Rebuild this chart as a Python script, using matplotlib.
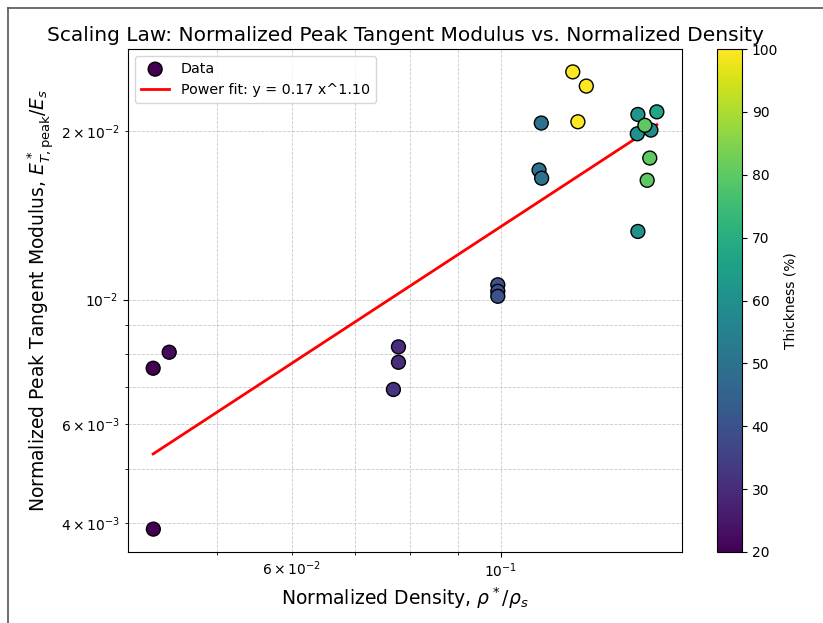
#!/usr/bin/env python3
"""Scaling law: normalized peak tangent modulus vs normalized density (log-log)."""

import numpy as np
import matplotlib
matplotlib.use("Agg")
import matplotlib.pyplot as plt
from matplotlib.lines import Line2D

# ── Data ─────────────────────────────────────────────────────────────
density = [0.04281, 0.04452, 0.04283,
           0.07786, 0.07786, 0.07691,
           0.09920, 0.09920, 0.09920,
           0.1103, 0.1097, 0.1104,
           0.1191, 0.1231, 0.1206,
           0.1396, 0.1462, 0.1394, 0.1441, 0.1420, 0.1437, 0.1428, 0.1396]
modulus = [0.007548, 0.008060, 0.003901,
           0.008240, 0.007735, 0.006918,
           0.01063, 0.01035, 0.01014,
           0.02064, 0.01702, 0.01646,
           0.02546, 0.02402, 0.02075,
           0.02138, 0.02161, 0.01975, 0.02005, 0.02045, 0.01788, 0.01632, 0.01323]
thickness = [20, 22, 20,
             30, 30, 32,
             40, 40, 40,
             50, 50, 50,
             100, 100, 100,
             62, 67, 60, 58, 80, 80, 80, 60]

FIT_A = 0.17
FIT_B = 1.10

# ── Figure ───────────────────────────────────────────────────────────
fig = plt.figure(figsize=(8.23, 6.23), dpi=100)
ax = fig.add_axes([0.1555, 0.114, 0.6732, 0.8073])
cax = fig.add_axes([0.8712, 0.114, 0.0304, 0.8073])

sc = ax.scatter(density, modulus, c=thickness, cmap="viridis", vmin=20, vmax=100,
                s=100, edgecolors="black", linewidths=1.0, zorder=3, label="Data")

x = np.array(density)
xfit = np.array([x.min(), x.max()])
ax.plot(xfit, FIT_A * xfit ** FIT_B, color="red", lw=2, zorder=2,
        label=f"Power fit: y = {FIT_A:.2f} x^{FIT_B:.2f}")

ax.set_xscale("log")
ax.set_yscale("log")
ax.grid(True, which="both", ls="--", lw=0.6, color="#bbbbbb", alpha=0.8)

ax.set_title("Scaling Law: Normalized Peak Tangent Modulus vs. Normalized Density",
             fontsize=14.5)
ax.set_xlabel(r"Normalized Density, $\rho^*/\rho_s$", fontsize=13.5)
ax.set_ylabel(r"Normalized Peak Tangent Modulus, $E^*_{T,\mathrm{peak}}/E_s$", fontsize=13.5)
ax.legend(loc="upper left", fontsize=10.3)

cb = fig.colorbar(sc, cax=cax)
cb.set_label("Thickness (%)", fontsize=10)

# screenshot frame (left and top edges)
fig.add_artist(Line2D([8 / 823, 8 / 823], [0, 1 - 8 / 623], color="#555555", lw=1.2))
fig.add_artist(Line2D([8 / 823, 1], [1 - 8 / 623, 1 - 8 / 623], color="#555555", lw=1.2))

fig.savefig("out.png", dpi=100)
